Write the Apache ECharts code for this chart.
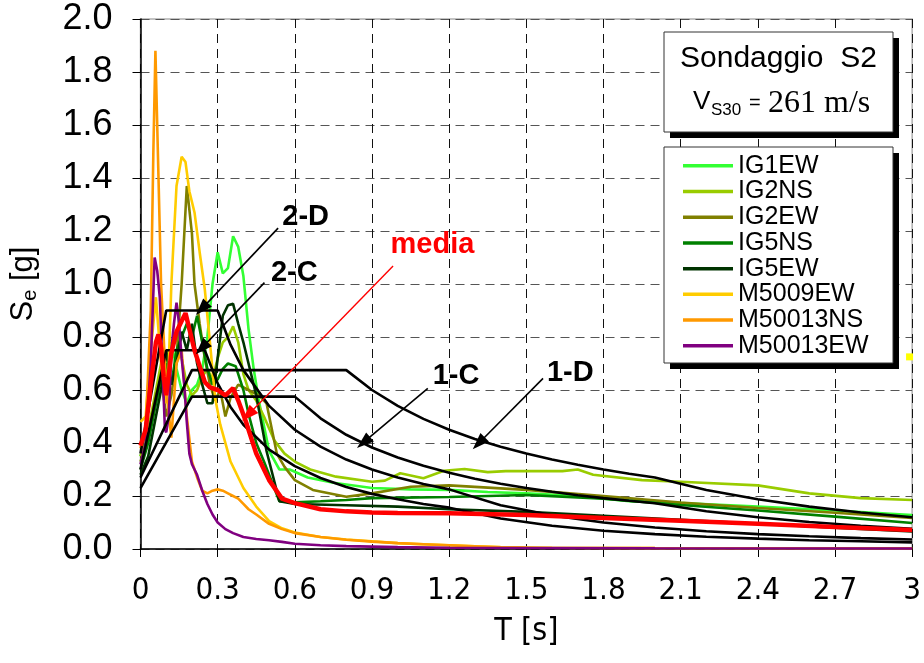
<!DOCTYPE html>
<html>
<head>
<meta charset="utf-8">
<script src="https://cdn.jsdelivr.net/npm/echarts@6/dist/echarts.min.js"></script>
<style>
  html, body { margin: 0; padding: 0; background: #fff; }
  #chart { width: 924px; height: 663px; }
</style>
</head>
<body>
<div id="chart"></div>
<script>
// Elastic response spectra, Sondaggio S2: recorded accelerograms, their mean, and EC8 spectra

// Period (s) / spectral acceleration (g) pairs for each record
const IG1EW = [[0,0.35],[0.03,0.45],[0.06,0.55],[0.08,0.62],[0.1,0.7],[0.12,0.78],[0.14,0.68],[0.16,0.6],[0.18,0.55],[0.2,0.6],[0.22,0.62],[0.24,0.68],[0.26,0.8],[0.28,1.0],[0.3,1.12],[0.32,1.04],[0.34,1.06],[0.36,1.18],[0.38,1.14],[0.4,1.03],[0.42,0.83],[0.44,0.68],[0.46,0.56],[0.5,0.37],[0.54,0.3],[0.58,0.3],[0.65,0.27],[0.75,0.25],[0.9,0.23],[1.05,0.225],[1.2,0.223],[1.35,0.215],[1.5,0.21],[1.7,0.2],[1.9,0.18],[2.1,0.173],[2.4,0.16],[2.7,0.145],[3.0,0.128]];
const IG2NS = [[0,0.35],[0.03,0.45],[0.06,0.6],[0.08,0.7],[0.1,0.65],[0.12,0.75],[0.14,0.8],[0.16,0.72],[0.18,0.62],[0.2,0.58],[0.22,0.6],[0.24,0.65],[0.26,0.68],[0.28,0.64],[0.3,0.72],[0.32,0.78],[0.34,0.8],[0.36,0.84],[0.38,0.78],[0.4,0.66],[0.42,0.6],[0.45,0.56],[0.48,0.5],[0.52,0.41],[0.56,0.36],[0.6,0.33],[0.66,0.3],[0.76,0.273],[0.9,0.254],[0.95,0.258],[1.01,0.286],[1.1,0.267],[1.18,0.295],[1.26,0.302],[1.35,0.29],[1.42,0.294],[1.64,0.294],[1.7,0.3],[1.76,0.28],[1.95,0.26],[2.1,0.254],[2.4,0.24],[2.6,0.21],[2.8,0.192],[3.0,0.185]];
const IG2EW = [[0,0.33],[0.03,0.42],[0.06,0.58],[0.08,0.65],[0.1,0.5],[0.12,0.58],[0.14,0.72],[0.16,1.0],[0.18,1.37],[0.2,1.19],[0.21,1.0],[0.23,0.85],[0.25,0.72],[0.27,0.62],[0.29,0.56],[0.31,0.6],[0.33,0.5],[0.35,0.57],[0.38,0.62],[0.42,0.6],[0.46,0.58],[0.49,0.55],[0.53,0.36],[0.56,0.31],[0.6,0.26],[0.67,0.223],[0.8,0.197],[0.9,0.21],[1.05,0.235],[1.2,0.24],[1.5,0.223],[1.8,0.2],[2.1,0.175],[2.4,0.155],[2.7,0.137],[3.0,0.117]];
const IG5NS = [[0,0.3],[0.03,0.4],[0.06,0.55],[0.08,0.65],[0.1,0.7],[0.12,0.62],[0.14,0.75],[0.16,0.8],[0.18,0.85],[0.2,0.8],[0.22,0.88],[0.24,0.78],[0.26,0.68],[0.28,0.62],[0.3,0.64],[0.32,0.68],[0.34,0.7],[0.37,0.69],[0.4,0.6],[0.42,0.51],[0.45,0.4],[0.48,0.33],[0.54,0.18],[0.6,0.176],[0.7,0.18],[0.8,0.185],[0.9,0.192],[1.2,0.196],[1.5,0.204],[1.8,0.19],[2.1,0.166],[2.4,0.145],[2.7,0.122],[3.0,0.098]];
const IG5EW = [[0,0.28],[0.03,0.35],[0.06,0.5],[0.08,0.6],[0.1,0.75],[0.12,0.62],[0.14,0.7],[0.16,0.82],[0.18,0.75],[0.2,0.85],[0.22,0.7],[0.24,0.62],[0.26,0.55],[0.28,0.55],[0.3,0.72],[0.32,0.88],[0.34,0.92],[0.36,0.925],[0.38,0.85],[0.4,0.78],[0.42,0.7],[0.45,0.58],[0.49,0.37],[0.54,0.18],[0.6,0.17],[0.8,0.165],[1.0,0.16],[1.2,0.15],[1.5,0.14],[1.8,0.125],[2.1,0.11],[2.4,0.095],[2.7,0.08],[3.0,0.066]];
const M5009EW = [[0,0.48],[0.02,0.5],[0.04,0.75],[0.06,0.95],[0.08,0.7],[0.1,0.55],[0.11,0.7],[0.12,1.0],[0.14,1.37],[0.16,1.48],[0.175,1.46],[0.19,1.35],[0.21,1.27],[0.23,1.12],[0.25,0.98],[0.27,0.78],[0.29,0.57],[0.31,0.47],[0.35,0.33],[0.4,0.23],[0.45,0.16],[0.5,0.105],[0.55,0.078],[0.6,0.062],[0.7,0.045],[0.8,0.036],[0.9,0.029],[1.0,0.022],[1.1,0.018],[1.2,0.014],[1.3,0.01],[1.4,0.007],[1.6,0.005],[2.0,0.004],[3.0,0.003]];
const M50013NS = [[0,0.38],[0.02,0.45],[0.04,0.9],[0.05,1.5],[0.058,1.88],[0.07,1.4],[0.08,1.0],[0.1,0.6],[0.12,0.42],[0.14,0.7],[0.16,0.75],[0.18,0.5],[0.2,0.33],[0.22,0.27],[0.24,0.22],[0.26,0.21],[0.28,0.22],[0.3,0.225],[0.32,0.22],[0.34,0.21],[0.36,0.2],[0.38,0.19],[0.4,0.17],[0.42,0.15],[0.45,0.13],[0.5,0.095],[0.55,0.075],[0.6,0.06],[0.7,0.045],[0.8,0.035],[0.9,0.028],[1.0,0.022],[1.1,0.018],[1.2,0.014],[1.3,0.01],[1.4,0.006],[1.5,0.005],[2.0,0.004],[3.0,0.003]];
const M50013EW = [[0,0.32],[0.02,0.4],[0.04,0.7],[0.055,1.1],[0.065,1.05],[0.075,0.95],[0.085,0.7],[0.095,0.45],[0.1,0.44],[0.11,0.5],[0.12,0.75],[0.13,0.85],[0.14,0.93],[0.15,0.85],[0.16,0.72],[0.17,0.62],[0.18,0.48],[0.19,0.36],[0.2,0.32],[0.22,0.28],[0.24,0.22],[0.26,0.17],[0.28,0.13],[0.3,0.1],[0.33,0.075],[0.36,0.06],[0.4,0.045],[0.45,0.038],[0.5,0.033],[0.55,0.027],[0.6,0.02],[0.7,0.014],[0.8,0.011],[0.9,0.009],[1.0,0.007],[1.2,0.005],[1.5,0.004],[2.0,0.003],[3.0,0.002]];

// Mean spectrum ("media")
const media = [[0,0.39],[0.02,0.45],[0.04,0.62],[0.06,0.78],[0.07,0.81],[0.08,0.76],[0.09,0.65],[0.1,0.58],[0.11,0.66],[0.12,0.74],[0.13,0.78],[0.14,0.82],[0.16,0.86],[0.175,0.89],[0.19,0.83],[0.21,0.75],[0.23,0.69],[0.25,0.63],[0.27,0.61],[0.3,0.6],[0.33,0.58],[0.36,0.607],[0.38,0.56],[0.41,0.48],[0.45,0.36],[0.5,0.26],[0.55,0.19],[0.6,0.173],[0.7,0.15],[0.8,0.142],[0.9,0.138],[1.0,0.136],[1.2,0.135],[1.5,0.128],[1.8,0.117],[2.1,0.107],[2.4,0.095],[2.7,0.083],[3.0,0.072]];

// EC8 elastic spectra (ag = 0.2 g), type 1 and type 2, soils C and D
const EC8_1C = [[0,0.23],[0.2,0.575],[0.6,0.575],[0.7,0.493],[0.8,0.431],[0.9,0.383],[1.0,0.345],[1.1,0.314],[1.2,0.2875],[1.3,0.265],[1.4,0.246],[1.5,0.23],[1.6,0.216],[1.7,0.203],[1.8,0.192],[1.9,0.182],[2.0,0.1725],[2.2,0.1426],[2.4,0.1198],[2.6,0.102],[2.8,0.088],[3.0,0.0767]];
const EC8_1D = [[0,0.27],[0.2,0.675],[0.8,0.675],[0.9,0.6],[1.0,0.54],[1.1,0.491],[1.2,0.45],[1.3,0.415],[1.4,0.386],[1.5,0.36],[1.6,0.3375],[1.7,0.318],[1.8,0.3],[1.9,0.284],[2.0,0.27],[2.2,0.223],[2.4,0.1875],[2.6,0.16],[2.8,0.138],[3.0,0.12]];
const EC8_2C = [[0,0.3],[0.1,0.75],[0.25,0.75],[0.3,0.625],[0.35,0.536],[0.4,0.469],[0.5,0.375],[0.6,0.3125],[0.7,0.268],[0.8,0.234],[0.9,0.208],[1.0,0.1875],[1.1,0.17],[1.2,0.156],[1.4,0.115],[1.6,0.088],[1.8,0.069],[2.0,0.056],[2.2,0.0465],[2.4,0.039],[2.6,0.033],[2.8,0.029],[3.0,0.025]];
const EC8_2D = [[0,0.36],[0.1,0.9],[0.3,0.9],[0.35,0.771],[0.4,0.675],[0.5,0.54],[0.6,0.45],[0.7,0.386],[0.8,0.3375],[0.9,0.3],[1.0,0.27],[1.1,0.245],[1.2,0.225],[1.4,0.165],[1.6,0.127],[1.8,0.1],[2.0,0.081],[2.2,0.067],[2.4,0.056],[2.6,0.048],[2.8,0.041],[3.0,0.036]];

const recordNames = ['IG1EW', 'IG2NS', 'IG2EW', 'IG5NS', 'IG5EW', 'M5009EW', 'M50013NS', 'M50013EW'];
const recordData = [IG1EW, IG2NS, IG2EW, IG5NS, IG5EW, M5009EW, M50013NS, M50013EW];
const recordColors = ['#33ff33', '#99cc00', '#808000', '#008000', '#003300', '#ffcc00', '#ff9900', '#800080'];

const ec8Names = ['1-C', '1-D', '2-C', '2-D'];
const ec8Data = [EC8_1C, EC8_1D, EC8_2C, EC8_2D];

// Callout labels [T, Se] and their arrows (from, to) in data units
const calloutLabels = [
  { name: '2-D', value: [0.642, 1.253], color: '#000000' },
  { name: '2-C', value: [0.598, 1.043], color: '#000000' },
  { name: 'media', value: [1.135, 1.147], color: '#ff0000' },
  { name: '1-C', value: [1.227, 0.653], color: '#000000' },
  { name: '1-D', value: [1.671, 0.666], color: '#000000' }
];
const calloutArrows = [
  { from: [0.535, 1.211], to: [0.238, 0.906], color: '#000000' },
  { from: [0.482, 1.005], to: [0.238, 0.758], color: '#000000' },
  { from: [0.982, 1.068], to: [0.418, 0.506], color: '#ff0000' },
  { from: [1.117, 0.606], to: [0.867, 0.402], color: '#000000' },
  { from: [1.565, 0.644], to: [1.315, 0.399], color: '#000000' }
];
const strayPoint = [[2.99, 0.725]];

const FONT = 'Liberation Sans, Arial, sans-serif';

// Pick a condensed face for the T axis if one is installed
function hasFont(name) {
  const ctx = document.createElement('canvas').getContext('2d');
  const probe = '0.3 1.2 2.7 T [s] mmmWW';
  ctx.font = '40px monospace';
  const base = ctx.measureText(probe).width;
  ctx.font = '40px "' + name + '", monospace';
  return Math.abs(ctx.measureText(probe).width - base) > 0.5;
}
let xFont = FONT, xSize = 30;
if (hasFont('Liberation Sans Narrow')) { xFont = '"Liberation Sans Narrow", sans-serif'; xSize = 34; }
else if (hasFont('DejaVu Sans Condensed')) { xFont = '"DejaVu Sans Condensed", sans-serif'; xSize = 31; }

const series = [];
recordNames.forEach((name, i) => {
  series.push({
    name, type: 'line', data: recordData[i], showSymbol: false, symbol: 'none',
    lineStyle: { color: recordColors[i], width: 2.6 }, itemStyle: { color: recordColors[i] },
    z: 2, silent: true
  });
});
ec8Names.forEach((name, i) => {
  series.push({
    name: 'EC8 ' + name, type: 'line', data: ec8Data[i], showSymbol: false, symbol: 'none',
    lineStyle: { color: '#000', width: 2.6 }, z: 3, silent: true
  });
});
series.push({
  name: 'media', type: 'line', data: media, showSymbol: false, symbol: 'none',
  lineStyle: { color: '#ff0000', width: 4.5 }, z: 4, silent: true
});
series.push({
  name: 'callouts', type: 'scatter', symbolSize: 1, silent: true, z: 6,
  itemStyle: { color: 'rgba(0,0,0,0)', opacity: 1 },
  data: calloutLabels.map(c => ({
    name: c.name, value: c.value,
    label: { color: c.color, opacity: 1 }
  })),
  label: {
    show: true, position: 'inside', formatter: '{b}', opacity: 1,
    fontFamily: FONT, fontWeight: 'bold', fontSize: 29
  },
  markLine: {
    silent: true, animation: false,
    symbol: ['none', 'triangle'], symbolSize: [12, 17],
    label: { show: false },
    data: calloutArrows.map(a => [
      { coord: a.from, lineStyle: { color: a.color, width: a.color === '#000000' ? 1.6 : 1.4, type: 'solid', opacity: 1 }, itemStyle: { color: a.color, opacity: 1 } },
      { coord: a.to }
    ])
  }
});
series.push({
  name: 'marker', type: 'scatter', data: strayPoint, symbol: 'rect', symbolSize: 7,
  itemStyle: { color: '#ffff00', opacity: 1 }, clip: false, silent: true, z: 7
});

const chart = echarts.init(document.getElementById('chart'), null, { renderer: 'canvas' });

const option = {
  animation: false,
  backgroundColor: '#fff',
  grid: { left: 133, right: 11, top: 19, bottom: 114, show: true, borderColor: '#b0b0b0', borderWidth: 1.5, backgroundColor: 'transparent' },
  xAxis: {
    type: 'value', min: 0, max: 3, interval: 0.3,
    name: 'T [s]', nameLocation: 'middle', nameGap: 67,
    nameTextStyle: { fontFamily: xFont, fontSize: xSize + 1, color: '#000' },
    axisLine: { show: true, lineStyle: { color: '#000', width: 1.5 } },
    axisTick: { show: true, length: 8, inside: false, lineStyle: { color: '#000' } },
    axisLabel: {
      fontFamily: xFont, fontSize: xSize, color: '#000', margin: 26,
      formatter: v => (v === 0 ? '0' : (Math.abs(v - 3) < 1e-9 ? '3' : v.toFixed(1)))
    },
    splitLine: { show: true, lineStyle: { color: '#111', type: [9, 6], width: 1 } }
  },
  yAxis: {
    type: 'value', min: 0, max: 2, interval: 0.2,
    name: 'S{sub|e} [g]', nameLocation: 'middle', nameGap: 100, nameRotate: 90,
    nameTextStyle: {
      fontFamily: FONT, fontSize: 31, color: '#000',
      rich: { sub: { fontFamily: FONT, fontSize: 20, color: '#000', verticalAlign: 'bottom', padding: [14, 0, 0, 0] } }
    },
    axisLine: { show: true, lineStyle: { color: '#000', width: 1.5 } },
    axisTick: { show: true, length: 8, inside: false, lineStyle: { color: '#000' } },
    axisLabel: {
      fontFamily: FONT, fontSize: 36, color: '#000', margin: 28,
      formatter: v => v.toFixed(1)
    },
    splitLine: { show: true, lineStyle: { color: '#555', type: [9, 6], width: 1 } }
  },
  legend: {
    data: recordNames, orient: 'vertical', left: 683, top: 153,
    icon: 'rect', itemWidth: 50, itemHeight: 3.5, itemGap: 0, padding: 0,
    textStyle: { fontFamily: FONT, fontSize: 25, color: '#000', lineHeight: 25.7 },
    selectedMode: false, z: 10
  },
  graphic: [
    // title box with hard shadow
    { type: 'rect', z: 8, shape: { x: 670, y: 38, width: 229, height: 100 }, style: { fill: '#000' } },
    { type: 'rect', z: 8, shape: { x: 664, y: 32, width: 229, height: 100 }, style: { fill: '#fff', stroke: '#333', lineWidth: 1 } },
    { type: 'text', z: 9, style: { x: 680, y: 59, text: 'Sondaggio  S2', font: '30px ' + FONT, fill: '#000', verticalAlign: 'middle' } },
    { type: 'text', z: 9, style: { x: 693, y: 102, text: 'V', font: '26px ' + FONT, fill: '#000', verticalAlign: 'middle' } },
    { type: 'text', z: 9, style: { x: 711, y: 110, text: 'S30', font: '17px ' + FONT, fill: '#000', verticalAlign: 'middle' } },
    { type: 'text', z: 9, style: { x: 749, y: 103, text: '=', font: '20px ' + FONT, fill: '#000', verticalAlign: 'middle' } },
    { type: 'text', z: 9, style: { x: 768, y: 104, text: '261 m/s', font: '32px Liberation Serif, Times New Roman, serif', fill: '#000', verticalAlign: 'middle' } },
    // legend box with hard shadow
    { type: 'rect', z: 8, shape: { x: 670, y: 153, width: 229, height: 216 }, style: { fill: '#000' } },
    { type: 'rect', z: 8, shape: { x: 664, y: 147, width: 229, height: 216 }, style: { fill: '#fff', stroke: '#333', lineWidth: 1 } }
  ],
  series
};

chart.setOption(option);
</script>
</body>
</html>
